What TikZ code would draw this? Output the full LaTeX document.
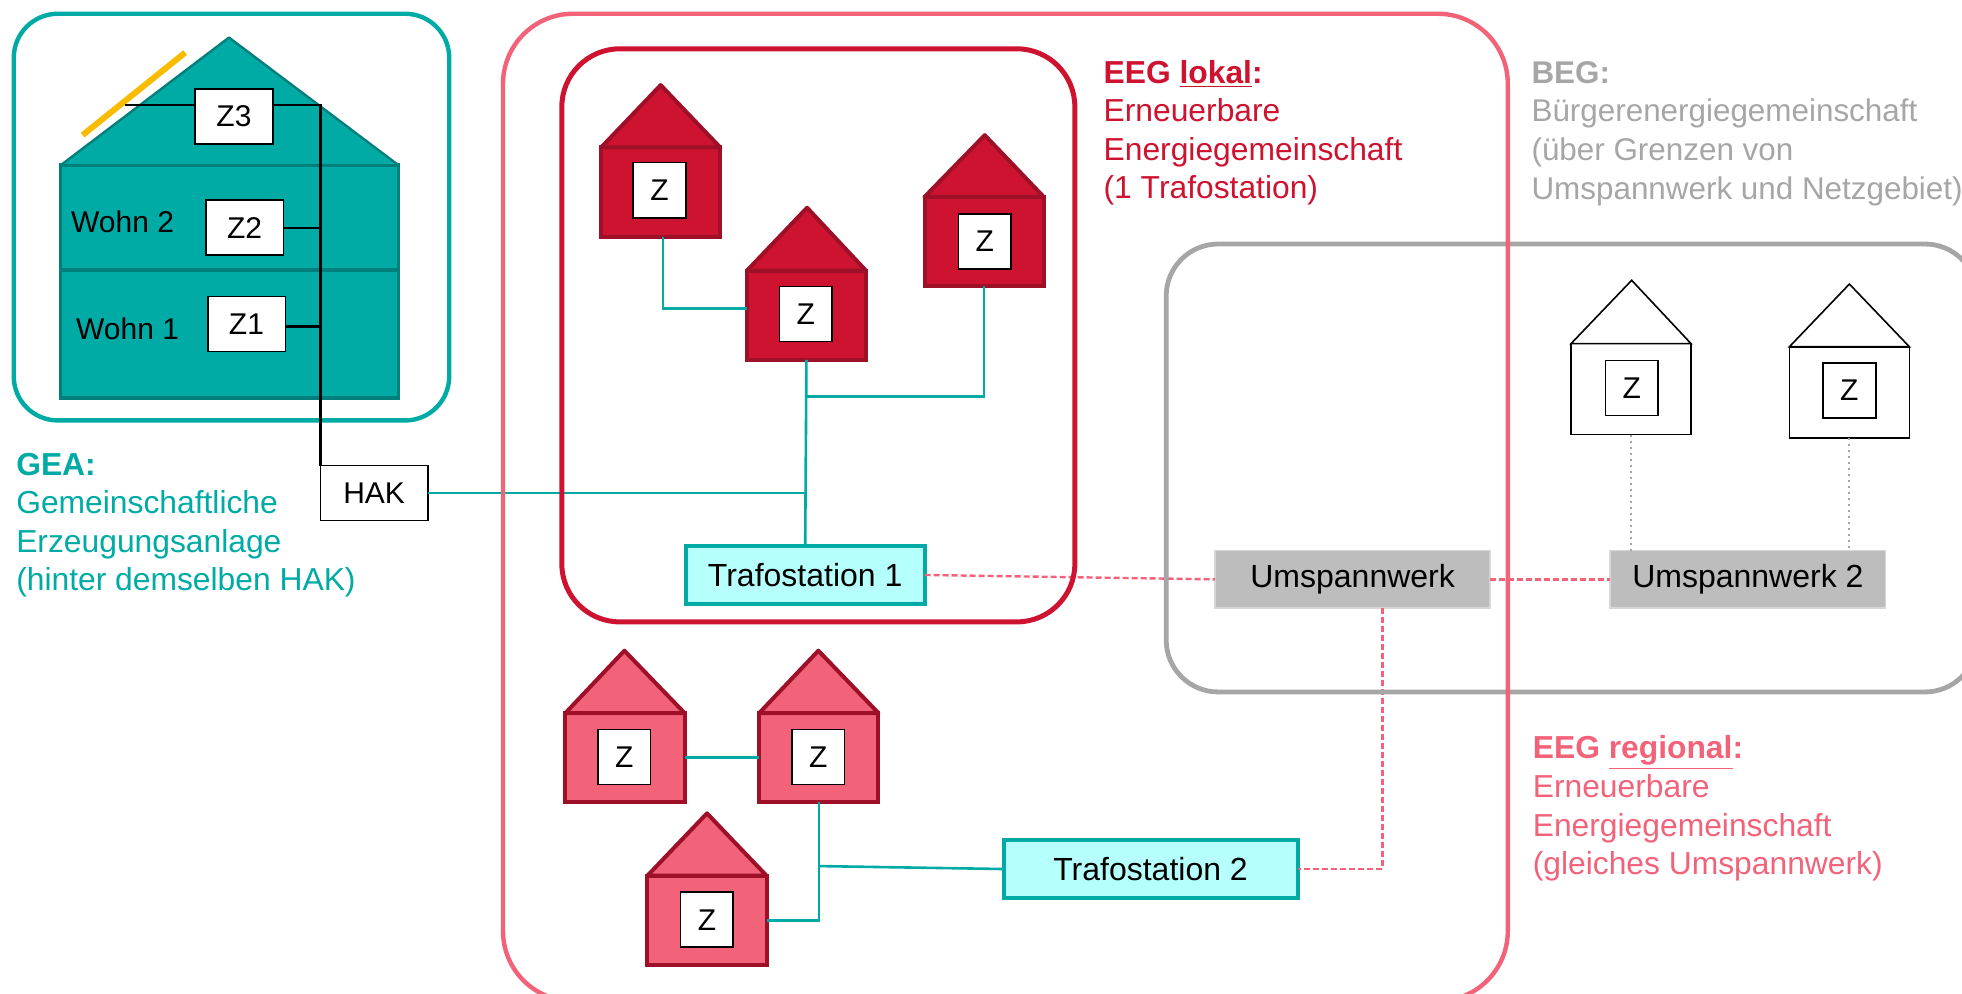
\documentclass[tikz,border=0pt]{standalone}
\usepackage{fontspec}
\setmainfont{Liberation Sans}
\usetikzlibrary{positioning,calc}
\definecolor{gruen}{HTML}{00ABA5}
\definecolor{gruendark}{HTML}{007F7C}
\definecolor{trafo}{HTML}{B5FFFC}
\definecolor{rot}{HTML}{CE1330}
\definecolor{rotdark}{HTML}{9E0F28}
\definecolor{rosa}{HTML}{F2637A}
\definecolor{grau}{HTML}{A6A6A6}
\definecolor{werk}{HTML}{BDBDBD}
\definecolor{solar}{HTML}{F9BC00}

\begin{document}
\begin{tikzpicture}[
				x=0.6256pt, y=-0.6256pt,
				every node/.style={font=\fontsize{15}{18}\selectfont, inner sep=0pt, outer sep=0pt},
				meter/.style={rectangle, draw=black, fill=white, line width=0.8pt, minimum width=26.3pt, minimum height=27.5pt},
				bigmeter/.style={meter, minimum width=38.8pt},
				floor/.style={rectangle, draw=gruendark, fill=gruen, line width=1.8pt, minimum width=168.9pt},
				redbody/.style={rectangle, draw=rotdark, fill=rot, line width=2pt, minimum width=59.6pt, minimum height=44.6pt},
				pinkbody/.style={redbody, fill=rosa},
				whitebody/.style={rectangle, draw=black, fill=white, line width=0.8pt, minimum width=60pt, minimum height=45.5pt},
				redroof/.style={draw=rotdark, fill=rot, line width=2pt, line join=round},
				pinkroof/.style={redroof, fill=rosa},
				whiteroof/.style={draw=black, fill=white, line width=0.8pt},
				station/.style={rectangle, draw=gruen, fill=trafo, line width=2pt, minimum height=29.4pt, font=\fontsize{16}{19}\selectfont},
				substation/.style={rectangle, draw=werk!60, fill=werk, line width=0.8pt, minimum width=137.6pt, minimum height=28.8pt, font=\fontsize{16}{19}\selectfont},
				label/.style={anchor=north west, align=left, font=\fontsize{15.9}{19.3}\selectfont},
				grid/.style={draw=gruen, line width=1.3pt},
				link/.style={draw=rosa, line width=1.2pt, dash pattern=on 3pt off 1.5pt},
				stub/.style={draw=grau, line width=1pt, dotted},
				frame/.style={line width=2.2pt, rounded corners=#1}
			]
			\clip[use as bounding box] (0,0) rectangle (1568,793.6);

			\draw[frame=22pt, draw=gruen] (11,11) rectangle (359,336);
			\node[floor, minimum height=52.5pt] (wohntwo) at (183.5,174) {};
			\node[floor, minimum height=63.8pt] (wohnone) [below=0pt of wohntwo] {};
			\draw[draw=gruendark, fill=gruen, line width=1.2pt, line join=round] (wohntwo.north west) -- (183,30) -- (wohntwo.north east) -- cycle;
			\draw[draw=solar, line width=3pt] (66,108) -- (148,42);
			\node (wohntwotext) at (98,177) {Wohn 2};
			\node (wohnonetext) at (102,263) {Wohn 1};
			\node[bigmeter] (zthree) at (187,93) {Z3};
			\node[bigmeter] (ztwo) at (195.5,182) {Z2};
			\node[bigmeter] (zone) at (197,259) {Z1};
			\node[rectangle, draw=black, fill=white, line width=0.8pt, minimum width=53.8pt, minimum height=27.5pt] (hak) at (299,394) {HAK};
			\begin{scope}[draw=black, line width=1.2pt]
			\draw ([yshift=5.6pt]zthree.west) -- ++(-56,0);
			\draw ([yshift=5.6pt]zthree.east) -| (hak.north west);
			\draw (ztwo.east) -- (ztwo.east -| hak.north west);
			\draw ([yshift=-1.2pt]zone.east) -- ([yshift=-1.2pt]zone.east -| hak.north west);
			\end{scope}

			\node[redbody] (rone) at (528,153.5) {};
			\node[redbody] (rtwo) at (644.5,252) {};
			\node[redbody] (rthree) at (786.5,193) {};
			\draw[redroof] (rone.north west) -- (528,68) -- (rone.north east) -- cycle;
			\draw[redroof] (rtwo.north west) -- (645,166) -- (rtwo.north east) -- cycle;
			\draw[redroof] (rthree.north west) -- (787,108) -- (rthree.north east) -- cycle;
			\node[meter] (zrone) at (527,152) {Z};
			\node[meter] (zrtwo) at (644,251) {Z};
			\node[meter] (zrthree) at (787,193) {Z};

			\node[pinkbody] (pone) at (499.5,605.5) {};
			\node[pinkbody] (ptwo) [right=37.3pt of pone] {};
			\node[pinkbody] (pthree) at (565,735.5) {};
			\draw[pinkroof] (pone.north west) -- (499,520) -- (pone.north east) -- cycle;
			\draw[pinkroof] (ptwo.north west) -- (654,520) -- (ptwo.north east) -- cycle;
			\draw[pinkroof] (pthree.north west) -- (565,650) -- (pthree.north east) -- cycle;
			\node[meter] (zpone) at (499,605) {Z};
			\node[meter] (zptwo) at (654,605) {Z};
			\node[meter] (zpthree) at (565,735) {Z};

			\node[whitebody] (wone) at (1303.5,311) {};
			\node[whitebody] (wtwo) at (1478,313.5) {};
			\draw[whiteroof] (wone.north west) -- (1304,224) -- (wone.north east) -- cycle;
			\draw[whiteroof] (wtwo.north west) -- (1478,227) -- (wtwo.north east) -- cycle;
			\node[meter] (zwone) at (1304,310) {Z};
			\node[meter] (zwtwo) at (1478,312) {Z};

			\node[station, minimum width=119.5pt] (trafoone) at (643.5,459.5) {Trafostation 1};
			\node[station, minimum width=147pt] (trafotwo) at (919.5,694.5) {Trafostation 2};
			\node[substation] (umspann) at (1081,463) {Umspannwerk};
			\node[substation] (umspanntwo) [right=60pt of umspann] {Umspannwerk 2};

			\draw[grid] (hak.east) -- (hak.east -| trafoone.north);
			\draw[grid] (rtwo.south) -- (trafoone.north);
			\draw[grid] (rthree.south) |- ($(rtwo.south)+(0,29)$);
			\draw[grid] ([xshift=1.2pt]rone.south) |- ([yshift=3.4pt]rtwo.west);
			\draw[grid] (pone.east) -- (ptwo.west);
			\draw[grid] (ptwo.south) |- (pthree.east);
			\draw[grid] ($(ptwo.south)+(0,51)$) -- (trafotwo.west);
			\draw[link] (trafoone.east) -- (umspann.west);
			\draw[link] (umspann.east) -- (umspanntwo.west);
			\draw[link] ([xshift=15pt]umspann.south) |- (trafotwo.east);
			\draw[stub] (wone.south) -- (wone.south |- umspanntwo.north);
			\draw[stub] (wtwo.south) -- (wtwo.south |- umspanntwo.north);

			\draw[frame=26pt, draw=grau, line width=2.4pt] (932,195) rectangle (1580,553);
			\draw[frame=35pt, draw=rosa] (402,11) rectangle (1205,800);
			\draw[frame=29pt, draw=rot, line width=2.5pt] (449,39) rectangle (859,497);

			\node[label, text=gruen] (textgea) at (13,362) {\textbf{GEA:}\\Gemeinschaftliche\\Erzeugungsanlage\\(hinter demselben HAK)};
			\node[label, text=rot] (textlokal) at (882,48) {\textbf{EEG \underline{lokal}:}\\Erneuerbare\\Energiegemeinschaft\\(1 Trafostation)};
			\node[label, text=grau, font=\fontsize{15.7}{19.3}\selectfont] (textbeg) at (1224,49) {\textbf{BEG:}\\Bürgerenergiegemeinschaft\\(über Grenzen von\\Umspannwerk und Netzgebiet)};
			\node[label, text=rosa] (textregional) at (1225,588) {\textbf{EEG \underline{regional}:}\\Erneuerbare\\Energiegemeinschaft\\(gleiches Umspannwerk)};
			\end{tikzpicture}
\end{document}
